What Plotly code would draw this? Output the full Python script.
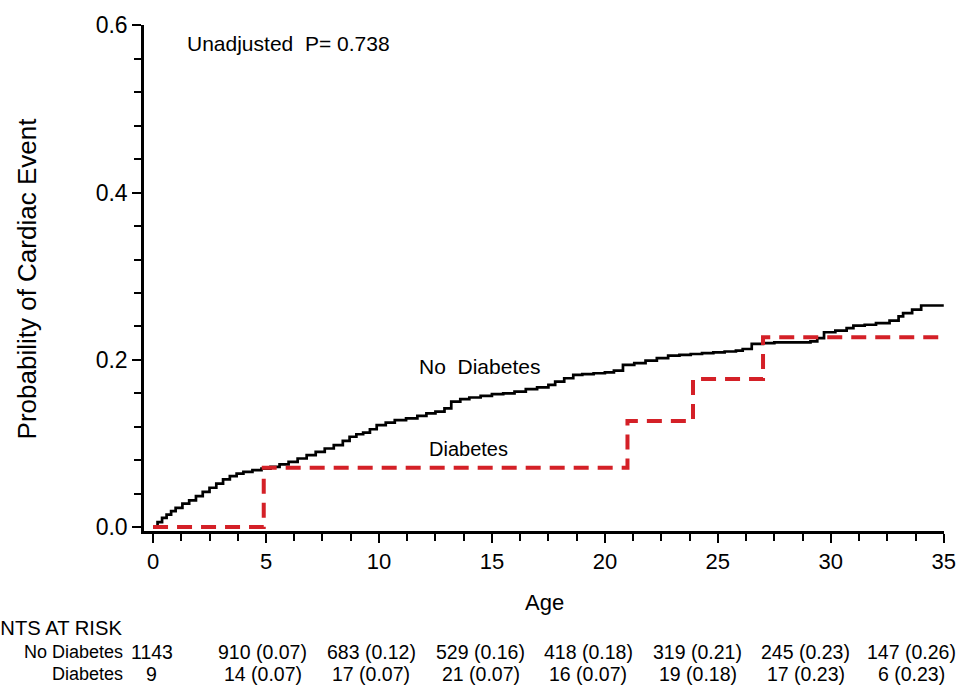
import plotly.graph_objects as go

# ---------------- data ----------------
age_nd = [0, 0.2, 0.4, 0.6, 0.8, 1.0, 1.3, 1.6, 1.9, 2.2, 2.5, 2.8, 3.1, 3.4, 3.7, 4.0, 4.4, 4.8,
          5.2, 5.6, 6.0, 6.4, 6.8, 7.2, 7.6, 8.0, 8.4, 8.7, 9.0, 9.3, 9.6, 9.9, 10.3, 10.7, 11.2,
          11.7, 12.1, 12.5, 12.9, 13.2, 13.6, 14.0, 14.5, 15.0, 15.5, 16.0, 16.5, 17.0, 17.5,
          17.8, 18.2, 18.6, 19.0, 19.5, 20.0, 20.4, 20.8, 21.3, 21.8, 22.3, 22.8, 23.3, 23.8,
          24.3, 24.8, 25.3, 25.8, 26.1, 26.5, 27.0, 27.5, 28.0, 28.5, 29.1, 29.4, 29.7, 30.2,
          30.7, 31.0, 31.5, 32.0, 32.6, 33.0, 33.2, 33.6, 34.0, 34.4, 35.0]
prob_nd = [0, 0.006, 0.011, 0.015, 0.019, 0.023, 0.028, 0.032, 0.037, 0.042, 0.047, 0.052, 0.057,
           0.061, 0.064, 0.066, 0.068, 0.070, 0.072, 0.075, 0.078, 0.082, 0.086, 0.090, 0.094,
           0.098, 0.103, 0.108, 0.111, 0.113, 0.117, 0.122, 0.125, 0.128, 0.130, 0.133, 0.136,
           0.138, 0.142, 0.150, 0.153, 0.155, 0.157, 0.159, 0.160, 0.162, 0.165, 0.167, 0.170,
           0.174, 0.178, 0.182, 0.183, 0.184, 0.185, 0.187, 0.194, 0.196, 0.199, 0.202, 0.205,
           0.206, 0.207, 0.208, 0.209, 0.210, 0.211, 0.213, 0.219, 0.220, 0.221, 0.221, 0.221,
           0.222, 0.226, 0.233, 0.235, 0.238, 0.241, 0.242, 0.244, 0.247, 0.252, 0.256, 0.260,
           0.265, 0.265, 0.265]

age_d = [0, 4.9, 21.0, 23.9, 27.0, 35.0]
prob_d = [0, 0.071, 0.127, 0.177, 0.227, 0.227]

risk_times = [0, 5, 10, 15, 20, 25, 30, 35]
risk_nd = ["1143", "910 (0.07)", "683 (0.12)", "529 (0.16)", "418 (0.18)", "319 (0.21)",
           "245 (0.23)", "147 (0.26)"]
risk_d = ["9", "14 (0.07)", "17 (0.07)", "21 (0.07)", "16 (0.07)", "19 (0.18)",
          "17 (0.23)", "6 (0.23)"]

x_ticks = [0, 5, 10, 15, 20, 25, 30, 35]
y_ticks = [0.0, 0.2, 0.4, 0.6]
y_ticklabels = ["0.0", "0.2", "0.4", "0.6"]

# ---------------- layout helpers ----------------
W, H = 968, 694
L, R, T, B = 144, 947, 19, 531
FONT = "Liberation Sans, Arial, sans-serif"
RED = "#d42027"

def px(xp):
    return (xp - L) / (R - L)

def py(yp):
    return (B - yp) / (B - T)

risk_label_px = [152, 263, 372, 482, 590, 700, 808, 914]

fig = go.Figure()
fig.add_trace(go.Scatter(x=age_nd, y=prob_nd, mode="lines", line=dict(color="black", width=2.7, shape="hv"),
                         name="No Diabetes", showlegend=False))
fig.add_trace(go.Scatter(x=age_d, y=prob_d, mode="lines",
                         line=dict(color=RED, width=4, shape="hv", dash="15px,9px"),
                         name="Diabetes", showlegend=False))

ann = []
def add(text, xp, yp, size, xanchor="center", angle=0):
    ann.append(dict(text=text, x=px(xp), y=py(yp), xref="paper", yref="paper", showarrow=False,
                    xanchor=xanchor, yanchor="middle", textangle=angle,
                    font=dict(family=FONT, size=size, color="black")))

add("Unadjusted  P= 0.738", 185, 38, 21, xanchor="left")
add("No  Diabetes", 481, 365, 21)
add("Diabetes", 470, 448, 20)
add("Probability of Cardiac Event", 27, 275, 26, angle=-90)
add("Age", 546, 603, 22)
add("PATIENTS AT RISK", 124, 629, 20.2, xanchor="right")
add("No Diabetes", 125, 653, 18, xanchor="right")
add("Diabetes", 125, 676, 18, xanchor="right")
for xp, a, b in zip(risk_label_px, risk_nd, risk_d):
    add(a, xp, 653, 19.5)
    add(b, xp, 676, 19.5)

fig.update_layout(
    width=W, height=H,
    margin=dict(l=L, r=W - R, t=T, b=H - B, pad=0),
    paper_bgcolor="white", plot_bgcolor="white",
    showlegend=False,
    annotations=ann,
    xaxis=dict(range=[-0.4, 35.01], tickmode="array", tickvals=x_ticks, ticks="outside", ticklen=9,
               tickwidth=2, tickcolor="black", showline=True, linewidth=2.5, linecolor="black",
               showgrid=False, zeroline=False, tickfont=dict(family=FONT, size=22, color="black"),
               minor=dict(dtick=1.25, tick0=0, ticks="outside", ticklen=7, tickwidth=2, tickcolor="black",
                          showgrid=False)),
    yaxis=dict(range=[-0.0047, 0.6005], tickmode="array", tickvals=y_ticks, ticktext=y_ticklabels,
               ticks="outside", ticklen=9, tickwidth=2, tickcolor="black", showline=True, linewidth=2.5,
               linecolor="black", showgrid=False, zeroline=False,
               tickfont=dict(family=FONT, size=23, color="black"),
               minor=dict(dtick=0.04, tick0=0, ticks="outside", ticklen=7, tickwidth=2, tickcolor="black",
                          showgrid=False)),
)

fig.write_html("out.html", config={"displayModeBar": False},
               post_script="document.body.style.margin='0';document.body.style.padding='0';"
                           "document.body.style.overflow='hidden';")
